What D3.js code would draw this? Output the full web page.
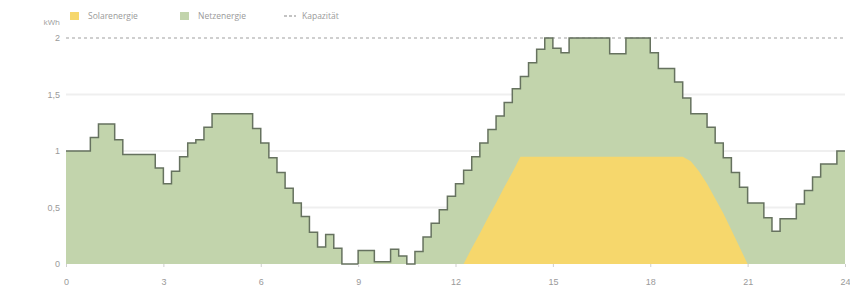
<!DOCTYPE html>
<html>
<head>
<meta charset="utf-8">
<script src="https://cdn.jsdelivr.net/npm/d3@7"></script>
<style>
  body { margin: 0; background: #fff; }
  svg { display: block; font-family: "Open Sans", sans-serif; }
</style>
</head>
<body>
<svg id="chart" width="850" height="295"></svg>
<script>
// quarter-hour values, kWh
var gesamt = [
  1.0, 1.0, 1.0, 1.12, 1.24, 1.24, 1.1, 0.97, 0.97, 0.97, 0.97, 0.85,
  0.71, 0.82, 0.95, 1.07, 1.1, 1.21, 1.33, 1.33, 1.33, 1.33, 1.33, 1.2,
  1.07, 0.94, 0.81, 0.67, 0.54, 0.42, 0.28, 0.15, 0.26, 0.14, 0.0, 0.0,
  0.12, 0.12, 0.02, 0.02, 0.13, 0.07, 0.0, 0.11, 0.24, 0.36, 0.48, 0.6,
  0.71, 0.83, 0.95, 1.07, 1.19, 1.31, 1.43, 1.55, 1.66, 1.78, 1.9, 2.0,
  1.91, 1.87, 2.0, 2.0, 2.0, 2.0, 2.0, 1.86, 1.86, 2.0, 2.0, 2.0,
  1.87, 1.73, 1.73, 1.61, 1.47, 1.33, 1.33, 1.21, 1.07, 0.94, 0.81, 0.68,
  0.54, 0.54, 0.41, 0.29, 0.4, 0.4, 0.53, 0.65, 0.77, 0.885, 0.885, 1.0
];
var solar = [
  0, 0, 0, 0, 0, 0, 0, 0, 0, 0, 0, 0,
  0, 0, 0, 0, 0, 0, 0, 0, 0, 0, 0, 0,
  0, 0, 0, 0, 0, 0, 0, 0, 0, 0, 0, 0,
  0, 0, 0, 0, 0, 0, 0, 0, 0, 0, 0, 0,
  0, 0, 0.14, 0.27, 0.41, 0.54, 0.68, 0.81, 0.95, 0.95, 0.95, 0.95,
  0.95, 0.95, 0.95, 0.95, 0.95, 0.95, 0.95, 0.95, 0.95, 0.95, 0.95, 0.95,
  0.95, 0.95, 0.95, 0.95, 0.95, 0.91, 0.82, 0.71, 0.58, 0.45, 0.3, 0.15,
  0, 0, 0, 0, 0, 0, 0, 0, 0, 0, 0, 0
];
var kapazitaet = 2;
var xTicks = [0, 3, 6, 9, 12, 15, 18, 21, 24];
var yTicks = [0, 0.5, 1, 1.5, 2];
var legende = ["Solarenergie", "Netzenergie", "Kapazität"];

var col = { solar: "#f6d76c", netz: "#c2d4ac", line: "#66725f", text: "#9a9a9a", grid: "#efefef" };

var svg = d3.select("#chart");
var x = d3.scaleLinear().domain([0, 24]).range([66, 845]);
var y = d3.scaleLinear().domain([0, 2]).range([264, 38]);
var de = d3.formatLocale({ decimal: ",", thousands: ".", grouping: [3], currency: ["", " €"] });
var fmt = de.format("~g");

// points at quarter hours, last value held until 24h
function pts(arr) {
  var p = arr.map(function(v, i) { return [i / 4, v]; });
  p.push([24, arr[arr.length - 1]]);
  return p;
}

// grid
svg.append("g").selectAll("line").data(yTicks.filter(function(d) { return d > 0 && d < kapazitaet; }))
  .enter().append("line")
  .attr("x1", x(0)).attr("x2", x(24))
  .attr("y1", function(d) { return y(d); }).attr("y2", function(d) { return y(d); })
  .attr("stroke", col.grid).attr("stroke-width", 2);

// areas
var areaStep = d3.area().curve(d3.curveStepAfter)
  .x(function(d) { return x(d[0]); }).y0(y(0)).y1(function(d) { return y(d[1]); });
var lineStep = d3.line().curve(d3.curveStepAfter)
  .x(function(d) { return x(d[0]); }).y(function(d) { return y(d[1]); });
var areaLin = d3.area()
  .x(function(d) { return x(d[0]); }).y0(y(0)).y1(function(d) { return y(d[1]); });

var gp = pts(gesamt);
var sp = solar.map(function(v, i) { return [i / 4, v]; });
sp.push([24, 0]);

svg.append("path").attr("d", areaStep(gp)).attr("fill", col.netz);
svg.append("path").attr("d", areaLin(sp)).attr("fill", col.solar);

// capacity
svg.append("line")
  .attr("x1", x(0)).attr("x2", x(24)).attr("y1", y(kapazitaet)).attr("y2", y(kapazitaet))
  .attr("stroke", "#a0a0a0").attr("stroke-width", 1.2).attr("stroke-dasharray", "3,3");

svg.append("path").attr("d", lineStep(gp))
  .attr("fill", "none").attr("stroke", col.line).attr("stroke-width", 1.5);

// axes
var yAxis = d3.axisLeft(y).tickValues(yTicks).tickSize(0).tickPadding(6).tickFormat(fmt);
var gy = svg.append("g").attr("transform", "translate(" + x(0) + ",0)").call(yAxis);
gy.select(".domain").remove();
gy.selectAll("text").attr("fill", col.text).style("font-size", "9px");

var xAxis = d3.axisBottom(x).tickValues(xTicks).tickSize(3).tickPadding(12);
var gx = svg.append("g").attr("transform", "translate(0," + y(0) + ")").call(xAxis);
gx.select(".domain").remove();
gx.selectAll("line").attr("stroke", "#cfcfcf");
gx.selectAll("text").attr("fill", col.text).style("font-size", "9px");

svg.append("text").attr("x", 60).attr("y", 25).attr("text-anchor", "end")
  .attr("fill", col.text).style("font-size", "8px").text("kWh");

// legend
var lg = svg.append("g").attr("transform", "translate(0,17)");
lg.append("rect").attr("x", 70).attr("y", -5).attr("width", 9).attr("height", 8).attr("fill", col.solar);
lg.append("text").attr("x", 88).attr("y", 2).attr("fill", col.text).style("font-size", "8.5px").text(legende[0]);
lg.append("rect").attr("x", 180).attr("y", -5).attr("width", 9).attr("height", 8).attr("fill", col.netz);
lg.append("text").attr("x", 198).attr("y", 2).attr("fill", col.text).style("font-size", "8.5px").text(legende[1]);
lg.append("line").attr("x1", 284).attr("x2", 296).attr("y1", -1).attr("y2", -1)
  .attr("stroke", "#888").attr("stroke-width", 1.2).attr("stroke-dasharray", "3,2");
lg.append("text").attr("x", 302).attr("y", 2).attr("fill", col.text).style("font-size", "8.5px").text(legende[2]);
</script>
</body>
</html>
